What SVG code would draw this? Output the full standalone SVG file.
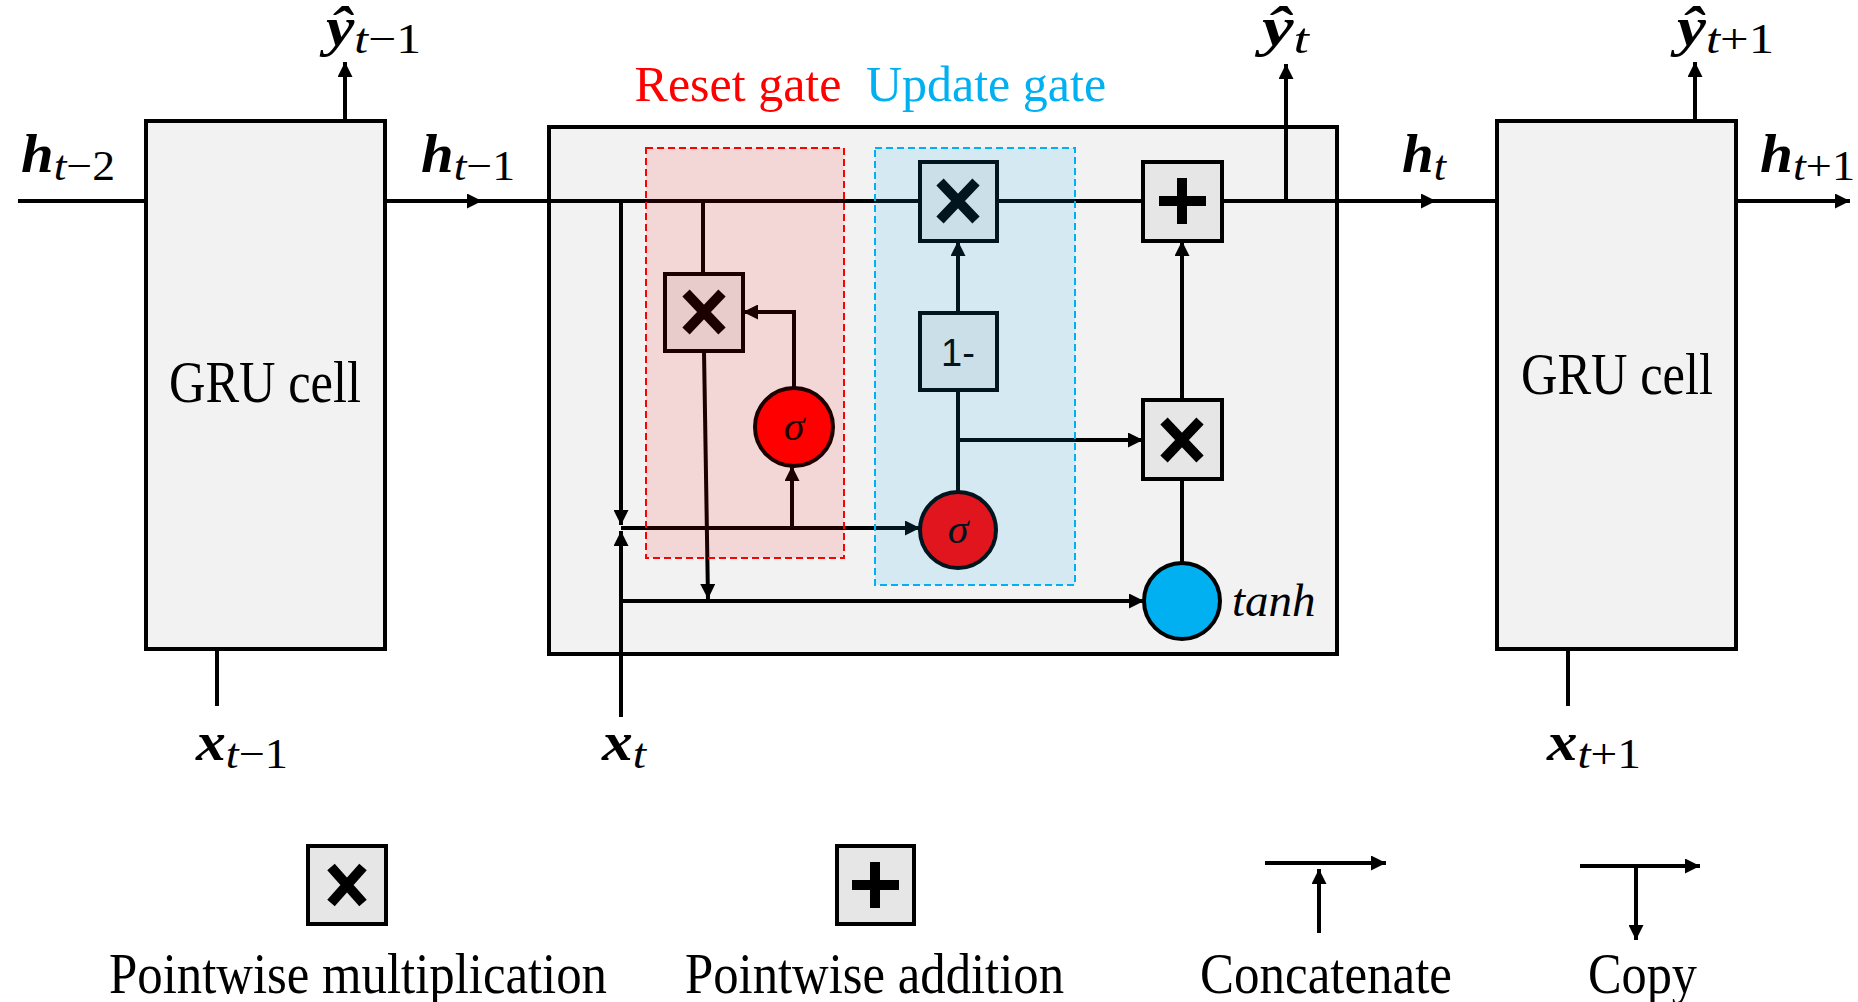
<svg xmlns="http://www.w3.org/2000/svg" width="1858" height="1002" viewBox="0 0 1858 1002">
<style>
.cell{fill:#f2f2f2;stroke:#000;stroke-width:4}
.op{fill:#e6e6e6;stroke:#000;stroke-width:4}
.ln{fill:none;stroke:#000;stroke-width:4}
.sym{stroke:#000;stroke-width:10;stroke-linecap:butt}
.circ{stroke:#000;stroke-width:4}
.serif{font-family:"Liberation Serif","DejaVu Serif",serif}
.math{font-family:"Liberation Serif","DejaVu Serif",serif;font-style:italic}
.bi{font-weight:bold;font-style:italic}
.up{font-style:normal;font-weight:normal}
.it{font-style:italic;font-weight:normal}
</style>
<defs>
<marker id="arr" viewBox="0 0 10 10" refX="10" refY="5" markerUnits="userSpaceOnUse" markerWidth="16" markerHeight="15" orient="auto">
<path d="M0,0 L10,5 L0,10 z" fill="#000"/>
</marker>
</defs>
<rect width="1858" height="1002" fill="#fff"/>

<g id="cell-left"><rect class="cell" x="146" y="121" width="239" height="528"/>
<text class="serif" x="265" y="402" font-size="60" text-anchor="middle" textLength="192" lengthAdjust="spacingAndGlyphs">GRU cell</text></g>
<g id="cell-main"><rect class="cell" x="549" y="127" width="788" height="527"/></g>
<g id="cell-right"><rect class="cell" x="1497" y="121" width="239" height="528"/>
<text class="serif" x="1617" y="394" font-size="60" text-anchor="middle" textLength="192" lengthAdjust="spacingAndGlyphs">GRU cell</text></g>

<g id="connectors">
<path class="ln" d="M18,201 H146"/>
<path class="ln" d="M385,201 H482" marker-end="url(#arr)"/>
<path class="ln" d="M478,201 H920"/>
<path class="ln" d="M997,201 H1143"/>
<path class="ln" d="M1222,201 H1436" marker-end="url(#arr)"/>
<path class="ln" d="M1430,201 H1497"/>
<path class="ln" d="M1736,201 H1850" marker-end="url(#arr)"/>
<path class="ln" d="M345,121 V62" marker-end="url(#arr)"/>
<path class="ln" d="M1286,201 V64" marker-end="url(#arr)"/>
<path class="ln" d="M1695,121 V62" marker-end="url(#arr)"/>
<path class="ln" d="M217,649 V706"/>
<path class="ln" d="M1568,649 V706"/>
<path class="ln" d="M621,717 V531" marker-end="url(#arr)"/>
<path class="ln" d="M621,201 V525" marker-end="url(#arr)"/>
<path class="ln" d="M621,528 H920" marker-end="url(#arr)"/>
<path class="ln" d="M792,528 V466" marker-end="url(#arr)"/>
<path class="ln" d="M794,388 V312 H743" marker-end="url(#arr)"/>
<path class="ln" d="M703,201 V274"/>
<path class="ln" d="M704,351 L708,599" marker-end="url(#arr)"/>
<path class="ln" d="M621,601 H1144" marker-end="url(#arr)"/>
<path class="ln" d="M958,492 V390"/>
<path class="ln" d="M958,440 H1143" marker-end="url(#arr)"/>
<path class="ln" d="M958,313 V241" marker-end="url(#arr)"/>
<path class="ln" d="M1182,400 V241" marker-end="url(#arr)"/>
<path class="ln" d="M1182,563 V479"/>
</g>

<g id="reset-mult"><rect class="op" x="665" y="274" width="78" height="77"/>
<path class="sym" d="M686,293 L722,331 M722,293 L686,331"/></g>
<g id="reset-sigma"><circle class="circ" cx="794" cy="427" r="39" fill="#ff0000"/>
<text class="math" x="794" y="440" font-size="42" text-anchor="middle">σ</text></g>
<g id="update-mult"><rect class="op" x="920" y="162" width="77" height="79"/>
<path class="sym" d="M940,182 L976,220 M976,182 L940,220"/></g>
<g id="one-minus"><rect class="op" x="920" y="313" width="77" height="77"/>
<text x="958" y="366" font-family="'Liberation Sans','DejaVu Sans',sans-serif" font-size="38" text-anchor="middle">1-</text></g>
<g id="update-sigma"><circle class="circ" cx="958" cy="530" r="38" fill="#ff0000"/>
<text class="math" x="958" y="543" font-size="42" text-anchor="middle">σ</text></g>
<g id="plus"><rect class="op" x="1143" y="162" width="79" height="79"/>
<path class="sym" d="M1159,201 H1206 M1182,178 V224"/></g>
<g id="out-mult"><rect class="op" x="1143" y="400" width="79" height="79"/>
<path class="sym" d="M1164,421 L1200,459 M1200,421 L1164,459"/></g>
<g id="tanh"><circle class="circ" cx="1182" cy="601" r="38" fill="#00b0f0"/>
<text class="math" x="1232" y="616" font-size="47">tanh</text></g>

<g id="reset-gate"><rect x="646" y="148" width="198" height="410" fill="#ff0000" fill-opacity="0.11" stroke="#ff0000" stroke-width="2" stroke-dasharray="7,4"/>
<text class="serif" x="738" y="101" font-size="50" fill="#ff0000" text-anchor="middle">Reset gate</text></g>
<g id="update-gate"><rect x="875" y="148" width="200" height="437" fill="#00b0f0" fill-opacity="0.12" stroke="#00b0f0" stroke-width="2" stroke-dasharray="7,4"/>
<text class="serif" x="986" y="101" font-size="50" fill="#00b0f0" text-anchor="middle">Update gate</text></g>

<g id="labels" class="math">
<text x="21" y="172" font-size="54" class="bi" textLength="94" lengthAdjust="spacingAndGlyphs">h<tspan class="it" font-size="42" dy="8">t</tspan><tspan class="up" font-size="42">−2</tspan></text>
<text x="421" y="172" font-size="54" class="bi" textLength="94" lengthAdjust="spacingAndGlyphs">h<tspan class="it" font-size="42" dy="8">t</tspan><tspan class="up" font-size="42">−1</tspan></text>
<text x="1402" y="172" font-size="54" class="bi" textLength="44" lengthAdjust="spacingAndGlyphs">h<tspan class="it" font-size="42" dy="8">t</tspan></text>
<text x="1760" y="172" font-size="54" class="bi" textLength="95" lengthAdjust="spacingAndGlyphs">h<tspan class="it" font-size="42" dy="8">t</tspan><tspan class="up" font-size="42">+1</tspan></text>
<text x="326" y="45" font-size="54" class="bi" textLength="95" lengthAdjust="spacingAndGlyphs">ŷ<tspan class="it" font-size="42" dy="8">t</tspan><tspan class="up" font-size="42">−1</tspan></text>
<text x="1262" y="45" font-size="54" class="bi" textLength="47" lengthAdjust="spacingAndGlyphs">ŷ<tspan class="it" font-size="42" dy="8">t</tspan></text>
<text x="1677" y="45" font-size="54" class="bi" textLength="97" lengthAdjust="spacingAndGlyphs">ŷ<tspan class="it" font-size="42" dy="8">t</tspan><tspan class="up" font-size="42">+1</tspan></text>
<text x="196" y="760" font-size="54" class="bi" textLength="92" lengthAdjust="spacingAndGlyphs">x<tspan class="it" font-size="42" dy="8">t</tspan><tspan class="up" font-size="42">−1</tspan></text>
<text x="602" y="760" font-size="54" class="bi" textLength="44" lengthAdjust="spacingAndGlyphs">x<tspan class="it" font-size="42" dy="8">t</tspan></text>
<text x="1547" y="760" font-size="54" class="bi" textLength="94" lengthAdjust="spacingAndGlyphs">x<tspan class="it" font-size="42" dy="8">t</tspan><tspan class="up" font-size="42">+1</tspan></text>
</g>

<g id="legend-mult"><rect class="op" x="308" y="846" width="78" height="78"/>
<path class="sym" d="M331,867 L363,903 M363,867 L331,903"/>
<text class="serif" x="109" y="993" font-size="56" textLength="498" lengthAdjust="spacingAndGlyphs">Pointwise multiplication</text></g>
<g id="legend-add"><rect class="op" x="837" y="846" width="77" height="78"/>
<path class="sym" d="M852,885 H899 M875,862 V908"/>
<text class="serif" x="685" y="993" font-size="56" textLength="379" lengthAdjust="spacingAndGlyphs">Pointwise addition</text></g>
<g id="legend-concat">
<path class="ln" d="M1265,863 H1386" marker-end="url(#arr)"/>
<path class="ln" d="M1319,933 V869" marker-end="url(#arr)"/>
<text class="serif" x="1200" y="993" font-size="56" textLength="252" lengthAdjust="spacingAndGlyphs">Concatenate</text></g>
<g id="legend-copy">
<path class="ln" d="M1580,866 H1700" marker-end="url(#arr)"/>
<path class="ln" d="M1636,866 V940" marker-end="url(#arr)"/>
<text class="serif" x="1588" y="993" font-size="56" textLength="109" lengthAdjust="spacingAndGlyphs">Copy</text></g>
</svg>
